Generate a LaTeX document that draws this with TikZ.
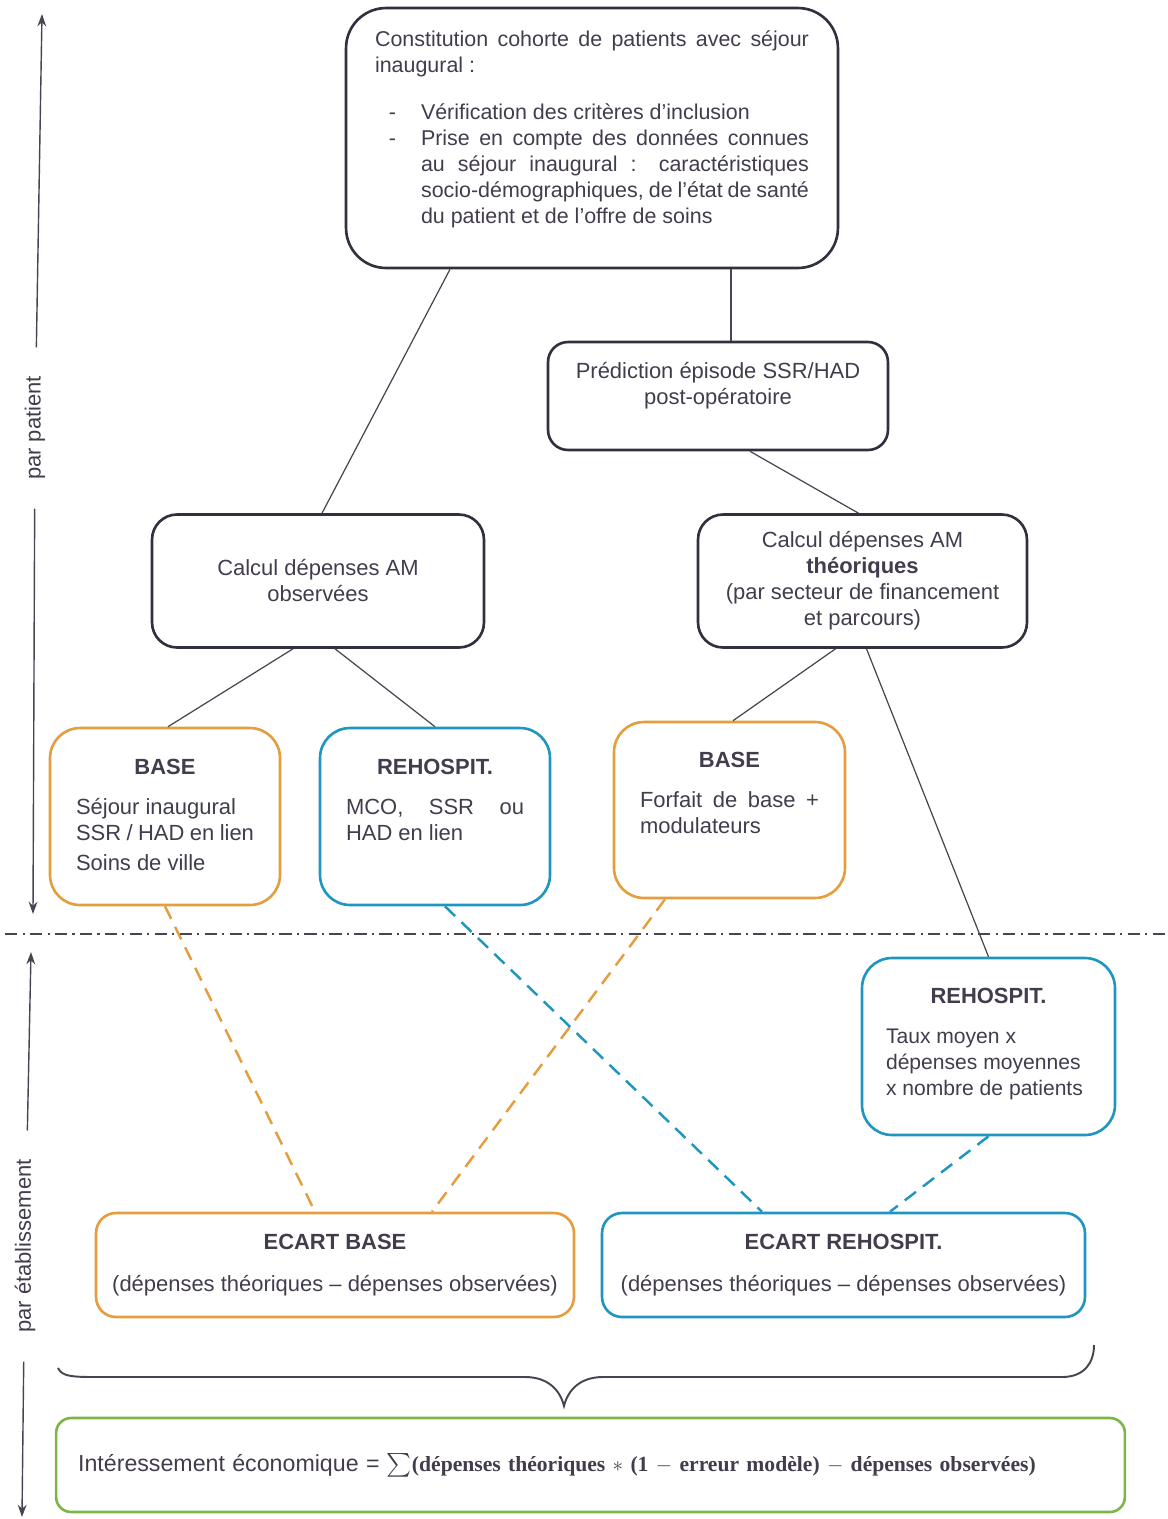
\documentclass[tikz,border=0pt]{standalone}
\usepackage{fontspec}
\setmainfont{Liberation Sans}
\newfontfamily\formulafont{Liberation Serif}
\usetikzlibrary{calc,arrows.meta}

% top aligned text inside a box: width, height, gap above, text
\newcommand{\topalign}[4]{\parbox[c][#2][t]{#1}{\tolerance=10000\hyphenpenalty=10000\vspace*{#3}#4}}

\begin{document}
\begin{tikzpicture}[x=0.02cm, y=-0.02cm, every node/.style={font=\fontsize{12.5}{14.8}\selectfont}]
			% Define colors
			\definecolor{textgray}{RGB}{66, 60, 76}
			\definecolor{boxline}{RGB}{52, 47, 62}
			\definecolor{linkgray}{RGB}{72, 68, 82}
			\definecolor{baseorange}{RGB}{228, 158, 62}
			\definecolor{rehoblue}{RGB}{30, 150, 192}
			\definecolor{sumgreen}{RGB}{124, 182, 72}

			% Styles
			\tikzstyle{dark_box} = [draw=boxline, line width=1.5pt, text=textgray, inner sep=0pt]
			\tikzstyle{base_box} = [dark_box, draw=baseorange, rounded corners=0.6cm]
			\tikzstyle{reho_box} = [dark_box, draw=rehoblue, rounded corners=0.6cm]
			\tikzstyle{sum_box} = [dark_box, draw=sumgreen, rounded corners=0.3cm]
			\tikzstyle{link} = [draw=linkgray, line width=0.7pt]
			\tikzstyle{base_link} = [draw=baseorange, line width=1.4pt, dash pattern=on 8pt off 5pt]
			\tikzstyle{reho_link} = [draw=rehoblue, line width=1.4pt, dash pattern=on 8pt off 5pt]
			\tikzstyle{side_label} = [rotate=90, text=textgray, inner xsep=0.57cm, inner ysep=0pt]
			\tikzstyle{side_arrow} = [draw=linkgray, line width=0.8pt, -{Stealth[length=7pt, width=5pt]}]
			\tikzstyle{sep_line} = [draw=linkgray, line width=0.7pt, dash pattern=on 7pt off 3pt on 1.2pt off 3pt]

			\useasboundingbox (0,0) rectangle (1168,1519);

			% Patient level
			\node[dark_box, rounded corners=0.8cm, minimum width=9.84cm, minimum height=5.2cm] (cohort) at (592,138) {\topalign{8.68cm}{5.2cm}{0.46cm}{\fontsize{12.2}{14.8}\selectfont
				Constitution cohorte de patients avec séjour\linebreak inaugural~:\par
				\vspace{0.42cm}
				{\leftskip=0.92cm
				\noindent\llap{-\hspace{0.5cm}}Vérification des critères d’inclusion\par
				\noindent\llap{-\hspace{0.5cm}}Prise en compte des données connues\linebreak au séjour inaugural~: caractéristiques\linebreak socio-démographiques, de l’état de santé\linebreak du patient et de l’offre de soins\par}}};
			\node[dark_box, rounded corners=0.4cm, minimum width=6.8cm, minimum height=2.16cm] (pred) at (718,396) {\topalign{6.8cm}{2.16cm}{0.4cm}{\centering Prédiction épisode SSR/HAD\\post-opératoire}};
			\node[dark_box, rounded corners=0.5cm, minimum width=6.64cm, minimum height=2.66cm, align=center] (obs) at (318,581) {Calcul dépenses AM\\observées};
			\node[dark_box, rounded corners=0.5cm, minimum width=6.58cm, minimum height=2.66cm, align=center] (theo) at (862.5,581) {Calcul dépenses AM\\\textbf{théoriques}\\(par secteur de financement\\et parcours)};

			% Expense blocks
			\node[base_box, minimum width=4.6cm, minimum height=3.54cm] (base_obs) at (165,816.5) {\topalign{3.56cm}{3.54cm}{0.62cm}{{\centering\textbf{BASE}\par}\vspace{0.28cm}\raggedright Séjour inaugural\\SSR / HAD en lien\\[0.08cm]Soins de ville}};
			\node[reho_box, minimum width=4.6cm, minimum height=3.54cm] (reho_obs) at (435,816.5) {\topalign{3.56cm}{3.54cm}{0.62cm}{{\centering\textbf{REHOSPIT.}\par}\vspace{0.28cm}MCO, SSR ou\linebreak HAD en lien}};
			\node[base_box, minimum width=4.62cm, minimum height=3.52cm] (base_theo) at (729.5,810) {\topalign{3.58cm}{3.52cm}{0.6cm}{{\centering\textbf{BASE}\par}\vspace{0.28cm}Forfait de base +\linebreak modulateurs}};
			\node[reho_box, minimum width=5.06cm, minimum height=3.54cm] (reho_theo) at (988.5,1046.5) {\topalign{4.1cm}{3.54cm}{0.6cm}{{\centering\textbf{REHOSPIT.}\par}\vspace{0.28cm}\fontsize{12}{14.8}\selectfont\raggedright Taux moyen x\\dépenses moyennes\\x nombre de patients}};

			% Gaps per establishment
			\node[base_box, rounded corners=0.4cm, minimum width=9.56cm, minimum height=2.08cm, align=center] (ecart_base) at (335,1265) {\textbf{ECART BASE}\\[0.32cm](dépenses théoriques – dépenses observées)};
			\node[reho_box, rounded corners=0.4cm, minimum width=9.66cm, minimum height=2.08cm, align=center] (ecart_reho) at (843.5,1265) {\textbf{ECART REHOSPIT.}\\[0.32cm](dépenses théoriques – dépenses observées)};
			\node[sum_box, minimum width=21.38cm, minimum height=1.88cm, text width=20.5cm, align=left] (incentive) at (590.5,1465) {\fontsize{13.2}{15}\selectfont Intéressement économique = {\formulafont\bfseries\fontsize{12.3}{15}\selectfont\raisebox{-0.1ex}{\scalebox{1.35}{$\sum$}}(dépenses théoriques $\ast$ (1 $-$ erreur modèle) $-$ dépenses observées)}};

			% Solid connectors
			\draw[link] ($(cohort.south)+(-142,0)$) -- ($(obs.north)+(4,0)$);
			\draw[link] ($(cohort.south)+(139,0)$) -- ($(pred.north)+(13,0)$);
			\draw[link] ($(pred.south)+(32,0)$) -- ($(theo.north)+(-4,0)$);
			\draw[link] ($(obs.south)+(-25,0)$) -- ($(base_obs.north)+(3,0)$);
			\draw[link] ($(obs.south)+(17,0)$) -- (reho_obs.north);
			\draw[link] ($(theo.south)+(-27,0)$) -- ($(base_theo.north)+(3.5,0)$);
			\draw[link] ($(theo.south)+(4,0)$) -- (reho_theo.north);

			% Dashed connectors
			\draw[base_link] (base_obs.south) -- ($(ecart_base.north)+(-20,0)$);
			\draw[base_link] ($(base_theo.south)+(-64.5,0)$) -- ($(ecart_base.north)+(97,0)$);
			\draw[reho_link] ($(reho_obs.south)+(10,0)$) -- ($(ecart_reho.north)+(-81.5,0)$);
			\draw[reho_link] (reho_theo.south) -- ($(ecart_reho.north)+(46.5,0)$);

			% Level separator
			\draw[sep_line] (5,934) -- (1168,934);

			% Side arrows
			\node[side_label] (par_patient) at (35,428) {par patient};
			\coordinate (patient_top) at (42,14);
			\coordinate (patient_bottom) at (33,914);
			\draw[side_arrow] (par_patient) -- (patient_top);
			\draw[side_arrow] (par_patient) -- (patient_bottom);
			\node[side_label] (par_etab) at (25,1246) {par établissement};
			\coordinate (etab_top) at (31,952);
			\coordinate (etab_bottom) at (22,1517);
			\draw[side_arrow] (par_etab) -- (etab_top);
			\draw[side_arrow] (par_etab) -- (etab_bottom);

			% Brace
			\draw[linkgray, line width=1.1pt] (58,1368) .. controls (62,1376) and (70,1377) .. (95,1377) -- (525,1377) .. controls (548,1377) and (560,1390) .. (564,1406) .. controls (568,1390) and (580,1377) .. (603,1377) -- (1062,1377) .. controls (1085,1377) and (1094,1362) .. (1094,1345);

		\end{tikzpicture}
\end{document}
